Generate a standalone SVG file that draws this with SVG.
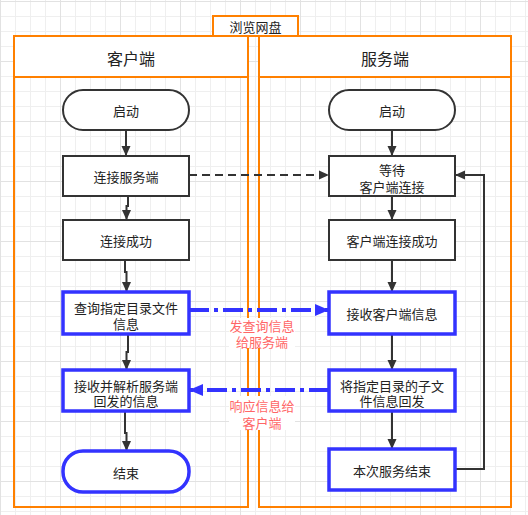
<svg xmlns="http://www.w3.org/2000/svg" width="528" height="515" viewBox="0 0 528 515">
<defs>
<pattern id="minor" width="15" height="15" patternUnits="userSpaceOnUse" x="0" y="1">
<path d="M0.5 0V15M0 0.5H15" stroke="#efefef" stroke-width="1" fill="none"/>
</pattern>
<pattern id="major" width="60" height="60" patternUnits="userSpaceOnUse" x="0" y="1">
<path d="M0.5 0V60M0 0.5H60" stroke="#e2e2e2" stroke-width="1" fill="none"/>
</pattern>
<marker id="ah" markerUnits="userSpaceOnUse" markerWidth="12" markerHeight="12" viewBox="0 0 12 12" refX="11" refY="6" orient="auto">
<path d="M1 1.5L11 6L1 10.5Z" fill="#333"/>
</marker>
<marker id="bh" markerUnits="userSpaceOnUse" markerWidth="16" markerHeight="16" viewBox="0 0 16 16" refX="15" refY="8" orient="auto">
<path d="M1 2L15 8L1 14Z" fill="#3333ff"/>
</marker>
<style>
text{font-family:"Noto Sans CJK SC","Noto Sans",sans-serif;fill:#222;text-anchor:middle;dominant-baseline:central;font-size:13px}
.lane{fill:none;stroke:#ff8000;stroke-width:2}
.hdr{fill:#fff;stroke:#ff8000;stroke-width:2}
.hd{font-size:16px}
.n{fill:#fff;stroke:#333;stroke-width:2}
.b{fill:#fff;stroke:#3333ff;stroke-width:3.5}
.c{fill:none;stroke:#333;stroke-width:2}
.bl{fill:none;stroke:#3333ff;stroke-width:4;stroke-dasharray:20 5 4 5}
.lb{fill:#ff6666}
</style>
</defs>
<rect width="528" height="515" fill="#fff"/>
<rect width="528" height="515" fill="url(#minor)"/>
<rect width="528" height="515" fill="url(#major)"/>

<g id="pool-client">
<rect class="hdr" x="14" y="36" width="234" height="41"/>
<rect class="lane" x="14" y="36" width="234" height="471"/>
<text class="hd" x="131" y="58">客户端</text>
</g>
<g id="pool-server">
<rect class="hdr" x="259" y="36" width="252" height="41"/>
<rect class="lane" x="259" y="36" width="252" height="471"/>
<text class="hd" x="385" y="58">服务端</text>
</g>
<g id="title">
<rect class="hdr" x="213" y="16" width="85" height="20"/>
<text x="255.5" y="26.5">浏览网盘</text>
</g>

<g id="connectors">
<path class="c" d="M126 130V156" marker-end="url(#ah)"/>
<path class="c" d="M128 196V206H126.5V220" marker-end="url(#ah)"/>
<path class="c" d="M125 260V272H126.5V292" marker-end="url(#ah)"/>
<path class="c" d="M128 334V352H126.5V370" marker-end="url(#ah)"/>
<path class="c" d="M125 411V433H126.5V451" marker-end="url(#ah)"/>
<path class="c" d="M392 130V156" marker-end="url(#ah)"/>
<path class="c" d="M392 196V220" marker-end="url(#ah)"/>
<path class="c" d="M392 260V292" marker-end="url(#ah)"/>
<path class="c" d="M392 334V370" marker-end="url(#ah)"/>
<path class="c" d="M392 411V449" marker-end="url(#ah)"/>
<path class="c" d="M189 175H329" stroke-dasharray="8 5" marker-end="url(#ah)"/>
<path class="c" d="M455 469H484V175H455" marker-end="url(#ah)"/>
<path class="bl" d="M189 310H329" marker-end="url(#bh)"/>
<path class="bl" d="M329 390H189" marker-end="url(#bh)"/>
<g id="label-query">
<rect x="229" y="318" width="66" height="30" fill="#fff"/>
<text class="lb" x="262" y="325"><tspan x="262">发查询信息</tspan><tspan x="262" dy="16">给服务端</tspan></text>
</g>
<g id="label-reply">
<rect x="229" y="396" width="66" height="34" fill="#fff"/>
<text class="lb" x="262" y="405"><tspan x="262">响应信息给</tspan><tspan x="262" dy="16.5">客户端</tspan></text>
</g>
</g>

<g id="c-start"><rect class="n" x="63" y="90" width="126" height="40" rx="20"/><text x="126" y="110.5">启动</text></g>
<g id="c-connect"><rect class="n" x="63" y="156" width="126" height="40"/><text x="126" y="176">连接服务端</text></g>
<g id="c-connected"><rect class="n" x="63" y="220" width="126" height="40"/><text x="126" y="240">连接成功</text></g>
<g id="c-query"><rect class="b" x="63" y="292" width="126" height="42"/><text x="126" y="306.5"><tspan x="126">查询指定目录文件</tspan><tspan x="126" dy="16">信息</tspan></text></g>
<g id="c-receive"><rect class="b" x="63" y="370" width="126" height="41"/><text x="126" y="384.5"><tspan x="126">接收并解析服务端</tspan><tspan x="126" dy="15.5">回发的信息</tspan></text></g>
<g id="c-end"><rect class="b" x="63" y="451" width="126" height="41" rx="20"/><text x="126" y="472">结束</text></g>

<g id="s-start"><rect class="n" x="329" y="90" width="126" height="40" rx="20"/><text x="392" y="110.5">启动</text></g>
<g id="s-wait"><rect class="n" x="329" y="156" width="126" height="40"/><text x="392" y="169"><tspan x="392">等待</tspan><tspan x="392" dy="16.5">客户端连接</tspan></text></g>
<g id="s-connected"><rect class="n" x="329" y="220" width="126" height="40"/><text x="392" y="240">客户端连接成功</text></g>
<g id="s-receive"><rect class="b" x="329" y="292" width="126" height="42"/><text x="392" y="313.5">接收客户端信息</text></g>
<g id="s-reply"><rect class="b" x="329" y="370" width="126" height="41"/><text x="392" y="384.5"><tspan x="392">将指定目录的子文</tspan><tspan x="392" dy="15.5">件信息回发</tspan></text></g>
<g id="s-end"><rect class="b" x="329" y="449" width="126" height="41"/><text x="392" y="470">本次服务结束</text></g>
</svg>
